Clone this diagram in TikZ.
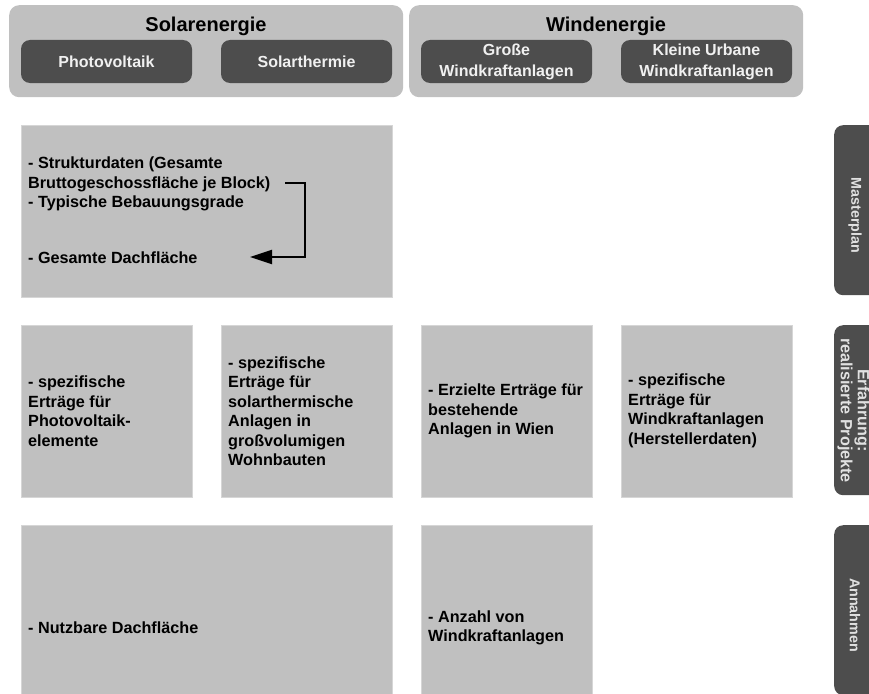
\documentclass[tikz,border=0pt]{standalone}
\usepackage{fontspec}
\setmainfont{Liberation Sans}
\usetikzlibrary{arrows.meta}
\definecolor{boxgrey}{RGB}{192,192,192}
\definecolor{boxedge}{RGB}{214,214,214}
\definecolor{darkgrey}{RGB}{77,77,77}
\definecolor{lighttxt}{RGB}{240,240,240}
\definecolor{tabtxtcol}{RGB}{225,225,225}
\begin{document}
\begin{tikzpicture}[x=1pt,y=-1pt,
  hdr/.style={fill=boxgrey, rounded corners=10pt, draw=none, anchor=north west, inner sep=0},
  hdrtitle/.style={font=\bfseries\fontsize{20}{24}\selectfont, anchor=base, inner sep=0},
  subbox/.style={fill=darkgrey, rounded corners=9pt, text=lighttxt, align=center,
    font=\bfseries\fontsize{16}{21}\selectfont, minimum width=171pt, minimum height=43pt, inner sep=0},
  cell/.style={fill=boxgrey, draw=boxedge, line width=0.8pt, anchor=north west, inner sep=0},
  celltxt/.style={font=\bfseries\fontsize{16.2}{19.5}\selectfont, align=left, anchor=west, inner sep=0},
  tab/.style={fill=darkgrey, rounded corners=9pt, anchor=north west, inner sep=0, minimum width=50pt},
  tabtxt/.style={text=tabtxtcol, rotate=-90, align=center, inner sep=0},
  arr/.style={line width=2pt, -{Triangle[length=22pt, width=14pt]}}
]
\useasboundingbox (0,0) rectangle (869,693);
\clip (0,0) rectangle (869,693);

% header groups
\node[hdr, minimum width=394pt, minimum height=92pt] (solar) at (9,5) {};
\node[hdr, minimum width=394pt, minimum height=92pt] (wind) at (409,5) {};
\node[hdrtitle] (solart) at (206,32) {Solarenergie};
\node[hdrtitle] (windt) at (606,32) {Windenergie};
\node[subbox] (pv) at (106.5,61.5) {Photovoltaik};
\node[subbox] (st) at (306.5,61.5) {Solarthermie};
\node[subbox] (gw) at (506.5,61.5) {Große\\Windkraftanlagen};
\node[subbox] (kw) at (706.5,61.5) {Kleine Urbane\\Windkraftanlagen};

% row 1: Masterplan
\node[cell, minimum width=371pt, minimum height=172pt] (m1) at (21,125) {};
\node[celltxt, anchor=base west] (m1a) at (28,207.5) {- Strukturdaten (Gesamte\\Bruttogeschossfläche je Block)\\- Typische Bebauungsgrade};
\node[celltxt, anchor=base west] (m1b) at (28,263.5) {- Gesamte Dachfläche};
\coordinate (arrS) at (285,183);
\coordinate (arrE) at (250,257);
\draw[arr] (arrS) -- ++(20,0) |- (arrE);

% row 2: Erfahrung
\node[cell, minimum width=171pt, minimum height=172pt] (e1) at (21,325) {};
\node[cell, minimum width=171pt, minimum height=172pt] (e2) at (221,325) {};
\node[cell, minimum width=171pt, minimum height=172pt] (e3) at (421,325) {};
\node[cell, minimum width=171pt, minimum height=172pt] (e4) at (621,325) {};
\node[celltxt] (e1t) at (28,411) {- spezifische\\Erträge für\\Photovoltaik-\\elemente};
\node[celltxt] (e2t) at (228,411) {- spezifische\\Erträge für\\solarthermische\\Anlagen in\\großvolumigen\\Wohnbauten};
\node[celltxt] (e3t) at (428,411) {- Erzielte Erträge für\\bestehende\\Anlagen in Wien};
\node[celltxt] (e4t) at (628,411) {- spezifische\\Erträge für\\Windkraftanlagen\\(Herstellerdaten)};

% row 3: Annahmen
\node[cell, minimum width=371pt, minimum height=206pt] (a1) at (21,525) {};
\node[cell, minimum width=171pt, minimum height=206pt] (a2) at (421,525) {};
\node[celltxt] (a1t) at (28,628) {- Nutzbare Dachfläche};
\node[celltxt] (a2t) at (428,628) {- Anzahl von\\Windkraftanlagen};

% side tabs
\node[tab, minimum height=170pt] (tm) at (834,125) {};
\node[tab, minimum height=170pt] (te) at (834,325) {};
\node[tab, minimum height=170pt] (ta) at (834,525) {};
\node[tabtxt, font=\bfseries\fontsize{14.3}{17}\selectfont] (tmt) at (855,215.5) {Masterplan};
\node[tabtxt, font=\bfseries\fontsize{16.2}{17}\selectfont] (tet) at (853.5,410.5) {Erfahrung:\\realisierte Projekte};
\node[tabtxt, font=\bfseries\fontsize{14.3}{17}\selectfont] (tat) at (855,615) {Annahmen};
\end{tikzpicture}
\end{document}
